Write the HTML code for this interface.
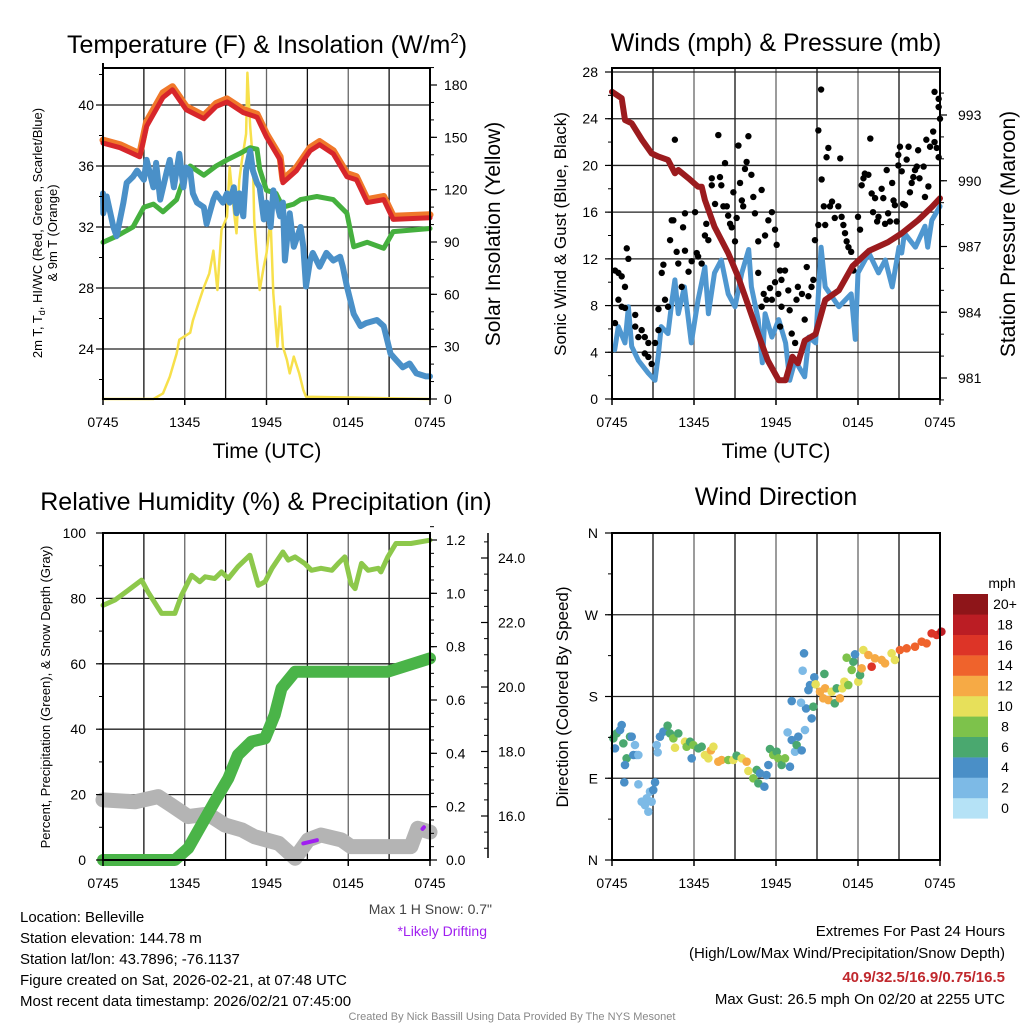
<!DOCTYPE html>
<html><head><meta charset="utf-8"><style>
body{margin:0;background:#fff;}
svg{display:block;font-family:"Liberation Sans",sans-serif;}
</style></head><body>
<svg id="c" width="1024" height="1024" viewBox="0 0 1024 1024" xmlns="http://www.w3.org/2000/svg">
<text x="267" y="53" font-size="25" text-anchor="middle">Temperature (F) &amp; Insolation (W/m<tspan font-size="15" dy="-10">2</tspan><tspan dy="10">)</tspan></text>
<text x="776" y="51" font-size="25" text-anchor="middle">Winds (mph) &amp; Pressure (mb)</text>
<text x="266" y="510" font-size="25" text-anchor="middle">Relative Humidity (%) &amp; Precipitation (in)</text>
<text x="776" y="505" font-size="25" text-anchor="middle">Wind Direction</text>
<text transform="translate(42,233) rotate(-90)" font-size="13" text-anchor="middle">2m T, T<tspan font-size="9" dy="3">d</tspan><tspan dy="-3">, HI/WC (Red, Green, Scarlet/Blue)</tspan></text>
<text transform="translate(57,233) rotate(-90)" font-size="13" text-anchor="middle">&amp; 9m T (Orange)</text>
<text transform="translate(500,234) rotate(-90)" font-size="21" text-anchor="middle">Solar Insolation (Yellow)</text>
<text transform="translate(566,234) rotate(-90)" font-size="17" text-anchor="middle">Sonic Wind &amp; Gust (Blue, Black)</text>
<text transform="translate(1015,234) rotate(-90)" font-size="21" text-anchor="middle">Station Pressure (Maroon)</text>
<text transform="translate(50,697) rotate(-90)" font-size="13" text-anchor="middle">Percent, Precipitation (Green), &amp; Snow Depth (Gray)</text>
<text transform="translate(568,697) rotate(-90)" font-size="17" text-anchor="middle">Direction (Colored By Speed)</text>
<text x="267" y="458" font-size="21" text-anchor="middle">Time (UTC)</text>
<text x="776" y="458" font-size="21" text-anchor="middle">Time (UTC)</text>
<g font-size="15">
<text x="20" y="922">Location: Belleville</text>
<text x="20" y="943">Station elevation: 144.78 m</text>
<text x="20" y="964">Station lat/lon: 43.7896; -76.1137</text>
<text x="20" y="985">Figure created on Sat, 2026-02-21, at 07:48 UTC</text>
<text x="20" y="1006">Most recent data timestamp: 2026/02/21 07:45:00</text>
</g>
<text x="492" y="914" font-size="14" fill="#444" text-anchor="end">Max 1 H Snow: 0.7"</text>
<text x="487" y="936" font-size="14" fill="#a020f0" text-anchor="end">*Likely Drifting</text>
<g font-size="15" text-anchor="end">
<text x="1005" y="936">Extremes For Past 24 Hours</text>
<text x="1005" y="958">(High/Low/Max Wind/Precipitation/Snow Depth)</text>
<text x="1005" y="982" font-weight="bold" fill="#c0282d">40.9/32.5/16.9/0.75/16.5</text>
<text x="1005" y="1004">Max Gust: 26.5 mph On 02/20 at 2255 UTC</text>
</g>
<text x="512" y="1020" font-size="11" fill="#888" text-anchor="middle">Created By Nick Bassill Using Data Provided By The NYS Mesonet</text>
</svg>
<script>
// ---- data ----
const xTickLabels = ["0745","1345","1945","0145","0745"];
const tempTicks = [24,28,32,36,40];
const insTicks = [0,30,60,90,120,150,180];
const windTicks = [0,4,8,12,16,20,24,28];
const presTicks = [981,984,987,990,993];
const rhTicks = [0,20,40,60,80,100];
const precipTicks = [0.0,0.2,0.4,0.6,0.8,1.0,1.2];
const snowTicks = [16.0,18.0,20.0,22.0,24.0];
const dirLabels = ["N","E","S","W","N"];
const speedBins = ["0","2","4","6","8","10","12","14","16","18","20+"];

const redH = [0,1.25,2.7,3.2,4.4,5.1,6.1,7.4,8.3,9.1,10.3,11.3,12,13,13.2,14.2,15.2,15.9,16.9,17.9,18.6,19.4,20.6,21.3,24];
const redT = [37.5,37.2,36.6,38.6,40.5,41.0,39.7,39.1,39.9,40.2,39.5,39.2,37.9,36.4,34.9,35.7,37.0,37.4,36.8,35.3,35.1,33.6,33.8,32.5,32.6];
const orangeT = [37.7,37.4,36.8,38.9,40.8,41.2,39.9,39.3,40.1,40.4,39.7,39.4,38.1,36.6,35.1,35.9,37.2,37.6,37.0,35.5,35.3,33.8,34.0,32.7,32.8];
const greenH = [0,1.0,2.2,3.0,3.7,4.4,5.4,5.9,6.4,7.4,8.3,9.1,10.0,10.8,11.3,11.5,12.0,12.7,13.2,14.0,14.5,15.7,16.9,17.9,18.4,19.4,20.6,21.3,24];
const greenT = [31.0,31.4,32.0,33.3,33.5,33.0,33.8,35.1,36.0,35.4,36.0,36.4,36.8,37.2,37.1,35.8,34.4,34.2,33.3,33.5,33.8,34.0,33.8,32.9,30.7,31.0,30.6,31.7,31.9];
const blueH = [0,0.02,0.27,0.76,1.0,1.5,1.74,2.2,2.5,3.0,3.2,3.7,3.9,4.2,4.7,4.9,5.2,5.6,5.9,6.1,6.4,6.6,6.9,7.4,7.6,8.1,8.3,8.8,9.1,9.3,9.6,9.8,10.0,10.3,10.5,10.8,11.0,11.3,11.5,11.8,12.0,12.3,12.5,12.7,13.0,13.2,13.35,13.7,14.0,14.5,14.7,14.9,15.2,15.4,15.9,16.4,16.9,17.4,17.6,17.9,18.4,18.9,19.3,20.1,20.6,21.1,21.5,22.0,22.5,23.0,23.7,24];
const blueT = [34.2,32.9,34.0,32.0,31.4,33.6,34.9,35.3,35.7,35.1,36.4,34.6,36.2,33.8,35.7,36.4,34.6,36.8,34.6,35.9,35.7,34.2,33.6,33.3,32.2,33.8,34.2,33.6,34.2,33.6,34.6,32.9,34.2,32.7,35.7,37.0,35.7,34.9,34.6,32.5,33.6,32.0,34.4,33.8,32.7,33.6,29.8,32.9,30.7,32.0,30.7,28.1,29.8,30.3,29.4,30.3,29.8,30.05,29.4,28.1,26.3,25.5,25.7,25.9,25.5,23.7,23.3,22.8,23.05,22.4,22.2,22.2];
const insH = [0,3.7,4.4,4.9,5.4,5.6,6.4,6.6,7.1,7.4,7.8,8.1,8.4,8.7,9.1,9.3,9.6,9.8,10.0,10.2,10.5,10.6,10.8,11.0,11.1,11.3,11.5,11.8,12.0,12.3,12.5,12.8,13.0,13.2,13.5,13.7,14.0,14.4,14.7,14.9,24];
const insV = [0,0,3.2,12.8,26,34,38,45,57,64,72,85,62.5,97,104.5,133,108,95,125.5,137,152,187,156,137,102.6,80,62.5,76,83.5,102.6,60.6,30,53,30,22.4,14.7,24.3,14.7,5.2,1.3,0];

const presH = [0,0.71,0.95,1.44,2.2,2.9,3.4,4.1,4.6,4.85,5.6,6.3,6.56,6.8,7.5,8.5,9.24,10.0,10.7,11.4,12.2,12.7,13.2,13.6,14.1,14.9,15.6,16.6,17.6,18.8,20.2,21.2,22.4,23.4,24];
const presV = [994.06,993.76,992.77,992.62,991.86,991.25,991.1,990.95,990.34,990.49,990.11,989.73,989.73,989.12,987.9,986.7,985.6,984.25,983.0,981.8,980.9,980.9,981.97,981.67,982.7,983.0,984.56,985.0,986.1,986.8,987.2,987.6,988.2,988.8,989.2];
const windH = [0.2,0.46,0.95,1.2,1.44,1.93,2.66,3.15,3.4,3.6,4.1,4.4,4.6,4.85,5.3,5.8,6.3,6.8,7.05,7.5,8.0,8.5,9.0,9.5,10.0,10.2,10.7,11.0,11.2,11.7,12.2,12.7,13.0,13.4,14.1,14.4,14.9,15.1,15.3,15.6,16.6,17.5,17.8,18.0,18.8,19.5,20.0,20.5,21.0,21.2,21.4,22.2,22.9,23.1,23.4,24];
const windV = [4.2,6.2,4.8,7.9,4.5,3.3,2.2,1.6,3.9,6.2,5.6,8.5,10.2,7.3,9.6,4.8,8.5,11.3,7.3,10.8,11.9,9.0,7.9,10.8,12.8,9.6,6.8,3.1,7.3,5.3,6.8,4.8,1.6,3.3,1.9,5.3,4.8,9.0,13.0,9.6,7.9,9.0,5.1,10.8,12.5,10.8,11.9,9.6,13.0,12.5,14.2,13.0,14.8,13.0,15.3,16.5];
const gustH = [0.22,0.47,0.71,0.95,0.47,0.71,0.95,1.08,1.2,0.22,1.7,1.7,1.93,2.17,2.4,2.66,2.4,2.66,2.9,3.15,3.4,3.4,3.64,3.76,3.88,4.1,4.25,4.37,4.49,4.6,4.73,4.85,5.1,5.34,5.2,5.34,5.6,5.83,6.08,6.2,6.3,6.56,6.8,6.9,7.05,7.3,7.3,7.54,7.78,7.9,8.0,8.15,8.27,8.4,8.5,8.64,8.76,8.88,9.0,9.12,9.25,9.37,9.5,9.6,9.73,9.85,9.98,10.2,10.34,10.46,10.7,10.95,11.2,11.44,11.7,11.93,12.05,12.3,12.4,12.66,10.7,10.95,11.1,11.3,11.56,11.7,11.93,12.17,12.3,12.4,12.9,13.0,13.15,13.4,13.5,13.6,13.9,14.1,14.25,14.37,14.6,14.73,14.85,15.1,15.1,15.3,15.34,15.5,15.6,15.7,15.83,15.95,16.1,16.3,16.56,16.7,16.8,16.93,17.05,17.17,17.3,17.5,17.66,18.0,18.15,18.27,18.4,18.5,18.76,18.9,19.0,19.1,19.25,19.4,19.5,19.73,19.85,19.98,20.1,20.2,20.34,20.5,20.6,20.7,20.83,20.95,20.95,21.07,21.2,21.3,21.44,21.56,21.7,21.8,21.93,22.05,22.17,22.3,22.4,22.5,22.8,22.9,23.0,23.15,23.27,23.5,23.6,23.76,23.9,23.6,23.9,23.9,24];
const gustV = [11.0,10.8,10.5,9.6,8.5,7.9,7.8,12.9,12.0,6.5,7.2,6.2,5.3,5.9,5.3,4.8,3.9,3.6,3.0,4.8,5.9,7.7,10.8,11.5,8.5,7.9,13.6,15.3,15.3,22.2,12.6,11.6,9.6,12.7,14.7,15.9,10.9,11.8,16.0,12.5,12.2,11.6,14.0,15.0,13.6,18.9,18.3,16.7,22.6,19.0,18.3,16.5,20.2,16.5,15.7,15.0,14.7,17.7,13.5,15.5,21.7,18.5,17.0,16.5,19.7,20.3,22.5,19.2,17.3,15.9,13.5,17.9,14.0,15.3,16.0,14.5,13.2,11.0,10.2,11.0,10.8,7.9,9.0,8.5,9.5,8.5,10.0,9.0,6.2,7.9,9.3,7.6,5.6,4.8,8.5,9.6,9.0,6.8,11.3,8.8,9.6,10.2,13.6,14.9,23.0,26.5,18.8,16.5,14.9,20.7,21.5,16.5,16.9,15.5,16.5,20.6,15.6,14.9,14.2,13.5,13.0,12.6,11.0,15.6,14.5,18.3,18.9,19.3,19.2,22.3,17.6,16.0,17.2,15.2,15.6,18.0,17.2,15.0,19.6,15.9,15.2,18.5,17.0,16.6,15.2,20.9,20.0,21.6,19.5,16.7,16.6,20.5,21.6,17.7,18.5,19.0,19.6,19.9,21.3,18.9,19.9,17.3,22.2,18.2,21.6,22.9,22.0,21.5,20.7,26.3,25.7,25.0,24.0];

const rhH = [0,0.88,1.85,2.83,3.3,4.3,5.28,5.77,6.5,7.1,7.5,8.2,8.7,9.2,9.9,10.78,11.4,11.9,12.4,13.2,13.6,14.1,14.8,15.3,16.0,16.8,17.26,17.75,18.2,18.5,18.97,19.46,20.2,20.4,20.9,21.5,22.6,24];
const rhV = [77.9,79.5,82.5,85.6,82.0,75.4,75.4,81.0,87.1,85.1,86.6,86.1,88.1,86.1,89.7,93.2,84.0,85.1,89.2,94.2,91.7,92.7,90.7,88.6,89.2,88.6,90.7,92.7,84.5,83.0,90.7,88.6,89.2,88.1,92.7,96.8,96.8,97.8];
const precipH = [0,5.28,6.25,8.2,9.2,9.9,10.9,11.9,12.6,13.1,14.1,20.9,24];
const precipV = [0,0,0.044,0.219,0.306,0.394,0.444,0.456,0.544,0.644,0.706,0.706,0.756];
const snowH = [0,2.35,4.06,5.0,6.25,7.7,8.95,10.2,11.1,12.9,14.1,15.06,16.0,17.5,18.2,22.6,23.1,24];
const snowV = [16.5,16.44,16.6,16.34,15.98,16.06,15.72,15.57,15.36,15.15,14.69,15.26,15.41,15.26,15.05,15.05,15.62,15.5];
const driftH = [14.7,15.2,15.7];
const driftV = [15.15,15.2,15.25];
const drift2H = [23.45,23.55];
const drift2V = [15.6,15.65];

const dirH = [0.1,0.34,0.59,0.71,0.22,0.83,1.07,0.95,1.32,1.44,1.68,1.8,1.56,1.93,0.9,1.93,2.17,2.41,2.66,2.54,2.9,2.78,3.02,3.15,3.27,3.34,3.51,3.76,4.07,4.24,4.49,4.61,4.85,5.34,5.46,5.71,5.83,5.95,6.32,6.56,6.8,7.05,7.24,7.42,7.78,8.02,8.51,8.88,9.12,9.49,9.85,9.98,10.34,10.59,10.71,10.83,11.15,11.3,11.44,11.56,11.8,12.05,12.17,12.41,12.66,13.02,12.85,13.15,13.39,13.51,13.63,13.88,14.12,14.61,14.2,14.73,13.15,13.83,14.37,14.49,14.8,14.9,15.22,15.46,15.59,15.83,16.07,16.3,16.44,16.68,16.85,17.0,17.29,17.54,17.66,17.78,17.17,18.02,18.15,18.27,18.39,18.76,19.0,19.24,19.73,19.98,20.46,20.7,21.07,21.56,22.17,22.66,23.02,23.39,23.76,24.1,14.05,13.95,15.54];
const dirDeg = [133.9,139.4,143.1,148.6,122.9,128.4,111.9,104.6,135.8,135.8,126.6,115.6,115.6,115.6,85.5,83.3,64.2,60.5,53.2,67.9,64.2,75.2,77.0,85.5,126.6,118.5,135.8,141.3,147.9,139.4,133.9,123.6,139.4,130.2,124.7,130.2,111.9,126.6,122.9,124.7,115.6,111.9,120.7,124.7,108.2,110.1,110.1,110.1,114.8,111.9,108.2,98.0,89.9,99.1,84.4,95.4,80.7,93.5,104.6,122.2,115.6,119.2,111.9,104.6,111.9,102.7,140.5,132.1,119.2,126.6,135.8,120.7,143.1,155.9,166.9,168.8,175.0,173.2,187.1,192.6,201.1,193.4,185.3,178.0,189.0,176.1,185.3,172.5,189.0,178.0,189.0,196.3,192.6,209.2,218.3,226.4,222.7,196.3,203.6,211.0,231.2,225.7,212.8,222.0,220.2,216.5,227.5,220.2,231.2,233.0,234.8,240.3,238.5,249.5,247.7,251.4,227.5,208.4,204.8];
const dirSpd = [6,6,4,4,4,6,6,4,6,4,2,2,4,2,4,2,2,2,2,2,2,2,4,4,2,2,4,4,6,6,8,10,6,10,8,6,4,8,6,6,10,10,12,10,12,12,8,10,6,10,12,10,8,6,6,4,4,4,4,6,8,6,8,6,8,4,2,4,2,6,4,4,2,4,4,6,4,2,4,4,4,10,12,12,12,12,10,6,6,12,10,10,8,8,6,4,8,10,6,12,10,12,16,12,12,12,10,10,14,14,14,14,14,16,16,18,4,2,6];

// ---- drawing ----
const NS="http://www.w3.org/2000/svg";
const svg=document.getElementById('c');
function el(tag,attrs,parent){const e=document.createElementNS(NS,tag);for(const k in attrs)e.setAttribute(k,attrs[k]);(parent||svg).appendChild(e);return e;}
function lin(d0,d1,r0,r1){return v=>r0+(v-d0)*(r1-r0)/(d1-d0);}
function pathD(xs,ys,sx,sy){return xs.map((h,i)=>(i?'L':'M')+sx(h).toFixed(1)+','+sy(ys[i]).toFixed(1)).join('');}
function drawLine(g,xs,ys,sx,sy,color,w,name){
  const p=el('path',{d:pathD(xs,ys,sx,sy),fill:'none',stroke:color,'stroke-width':w,'stroke-linejoin':'round','stroke-linecap':'round'},g);
  
  
  return p;
}
function panel(x0,y0,x1,y1,name){
  const g=el('g',{});
  
  
  return g;
}
function gridV(g,sx,y0,y1){for(let h=3;h<24;h+=3){const l=el('line',{x1:sx(h),x2:sx(h),y1:y0,y2:y1,stroke:(h%6==0?'#666':'#111'),'stroke-width':1.3},g);
  
  }}
function gridH(g,ys,x0,x1){ys.forEach(y=>{const l=el('line',{x1:x0,x2:x1,y1:y,y2:y,stroke:'#222','stroke-width':1.3},g);
  
  });}
function frame(g,x0,y0,x1,y1){const r=el('rect',{x:x0,y:y0,width:x1-x0,height:y1-y0,fill:'none',stroke:'#000','stroke-width':2},g);
  
  }
function xAxis(g,sx,y1){xTickLabels.forEach((t,i)=>{const x=sx(i*6);
  el('line',{x1:x,x2:x,y1:y1,y2:y1+6,stroke:'#000','stroke-width':1.5},g);
  const tx=el('text',{x:x,y:y1+28,'font-size':14,'text-anchor':'middle'},g);tx.textContent=t;
  
  });}
function yLabels(g,ticks,sy,x,anchor,fmt,tickX,dir,name){ticks.forEach(v=>{const y=sy(v);
  el('line',{x1:tickX,x2:tickX+dir*7,y1:y,y2:y,stroke:'#000','stroke-width':1.2},g);
  const tx=el('text',{x:x,y:y+5,'font-size':14,'text-anchor':anchor},g);tx.textContent=fmt(v);
  
  });}
function minor(g,vals,sy,tickX,dir){vals.forEach(v=>el('line',{x1:tickX,x2:tickX+dir*4,y1:sy(v),y2:sy(v),stroke:'#000','stroke-width':1},g));}
function range(a,b,s){const r=[];for(let v=a;v<=b+1e-9;v+=s)r.push(+v.toFixed(3));return r;}

// Panel 1
{const X0=103,X1=430,Y0=68,Y1=399;
 const g=panel(X0,Y0,X1,Y1,'temperature-panel');
 const sx=lin(0,24,X0,X1), sy=lin(40,24,105,349), si=lin(0,180,399,85);
 gridV(g,sx,Y0,Y1); gridH(g,tempTicks.map(sy),X0,X1);
 drawLine(g,insH,insV,sx,si,'#f7e04b',2.5,'insolation-line');
 drawLine(g,greenH,greenT,sx,sy,'#45b03e',5,'dewpoint-line');
 drawLine(g,blueH,blueT,sx,sy,'#4a90c8',6,'windchill-line');
 drawLine(g,redH,orangeT,sx,sy,'#f0782a',7,'temp-9m-line');
 drawLine(g,redH,redT,sx,sy,'#d7262b',5,'temp-2m-line');
 frame(g,X0,Y0,X1,Y1);
 el('line',{x1:X0,x2:X0,y1:Y0-5,y2:Y1,stroke:'#000','stroke-width':2},g);
 minor(g,range(22,42,2),sy,X0,-1);
 yLabels(g,tempTicks,sy,94,'end',v=>v,X0,-1,'temp-tick-label');
 minor(g,range(0,190,10),si,X1,1);
 yLabels(g,insTicks,si,444,'start',v=>v,X1,1,'insolation-tick-label');
 xAxis(g,sx,Y1);}

// Panel 2
{const X0=612,X1=940,Y0=68,Y1=399;
 const g=panel(X0,Y0,X1,Y1,'winds-panel');
 const sx=lin(0,24,X0,X1), sy=lin(0,28,399,72), sp=lin(993,981,115,378);
 gridV(g,sx,Y0,Y1); gridH(g,windTicks.slice(1).map(sy),X0,X1);
 drawLine(g,windH,windV,sx,sy,'#4f97d0',5,'sonic-wind-line');
 gustH.forEach((h,i)=>{const c=el('circle',{cx:sx(h),cy:sy(gustV[i]),r:3.2,fill:'#000'},g);
   
   });
 drawLine(g,presH,presV,sx,sp,'#9b1b1e',6,'pressure-line');
 frame(g,X0,Y0,X1,Y1);
 minor(g,range(0,28,2),sy,X0,-1);
 yLabels(g,windTicks,sy,598,'end',v=>v,X0,-1,'wind-tick-label');
 minor(g,range(980,994,1),sp,X1,1);
 yLabels(g,presTicks,sp,958,'start',v=>v,X1,1,'pressure-tick-label');
 xAxis(g,sx,Y1);}

// Panel 3
{const X0=103,X1=430,Y0=533,Y1=860;
 const g=panel(X0,Y0,X1,Y1,'humidity-panel');
 const sx=lin(0,24,X0,X1), sy=lin(0,100,860,533), sp=lin(0,1.2,860,540), ss=lin(16,24,816,558);
 gridV(g,sx,Y0,Y1); gridH(g,rhTicks.slice(1,5).map(sy),X0,X1);
 drawLine(g,snowH,snowV,sx,ss,'#b4b4b4',15,'snow-depth-line');
 drawLine(g,driftH,driftV,sx,ss,'#a020f0',4,'drift-marker');
 drawLine(g,drift2H,drift2V,sx,ss,'#a020f0',4,'drift-marker-2');
 drawLine(g,precipH,precipV,sx,sp,'#4ab448',12,'precip-line');
 drawLine(g,rhH,rhV,sx,sy,'#8dc84b',5,'rh-line');
 frame(g,X0,Y0,X1,Y1);
 minor(g,range(0,100,10),sy,X0,-1);
 yLabels(g,rhTicks,sy,86,'end',v=>v,X0,-1,'rh-tick-label');
 minor(g,range(0,1.25,0.05),sp,X1,1);
 yLabels(g,precipTicks,sp,446,'start',v=>v.toFixed(1),X1,1,'precip-tick-label');
 el('line',{x1:488,x2:488,y1:533,y2:858,stroke:'#000','stroke-width':1.5},g);
 minor(g,range(15,24.5,0.5),ss,488,-1);
 yLabels(g,snowTicks,ss,498,'start',v=>v.toFixed(1),488,-1,'snow-tick-label');
 xAxis(g,sx,Y1);}

// Panel 4
{const X0=612,X1=940,Y0=533,Y1=860;
 const g=panel(X0,Y0,X1,Y1,'wind-direction-panel');
 const sx=lin(0,24,X0,X1), sy=lin(0,360,860,533);
 const colors=['#b5e2f6','#7dbae6','#4a8fc7','#4aa86f','#7dc24b','#e7e05a','#f6aa45','#ef632c','#dd3427','#bb1d24','#8e1519'];
 gridV(g,sx,Y0,Y1); gridH(g,[90,180,270].map(sy),X0,X1);
 dirH.forEach((h,i)=>{const c=el('circle',{cx:sx(h),cy:sy(dirDeg[i]),r:4.3,fill:colors[Math.min(10,Math.floor(dirSpd[i]/2))]},g);
   
   });
 frame(g,X0,Y0,X1,Y1);
 minor(g,range(0,360,45),sy,X0,-1);
 yLabels(g,[0,90,180,270,360],sy,598,'end',v=>dirLabels[v/90],X0,-1,'direction-tick-label');
 xAxis(g,sx,Y1);
 const cb=el('g',{},svg);
 
 
 const t=el('text',{x:1002,y:588,'font-size':14,'text-anchor':'middle'},cb);t.textContent='mph';
 
 
 speedBins.forEach((lab,i)=>{const y=594+(10-i)*20.4;
   const r=el('rect',{x:953,y:y,width:35,height:20.6,fill:colors[i]},cb);
   
   
   const tx=el('text',{x:1005,y:y+15,'font-size':14,'text-anchor':'middle'},cb);tx.textContent=lab;
   
   });}
</script>
</body></html>
